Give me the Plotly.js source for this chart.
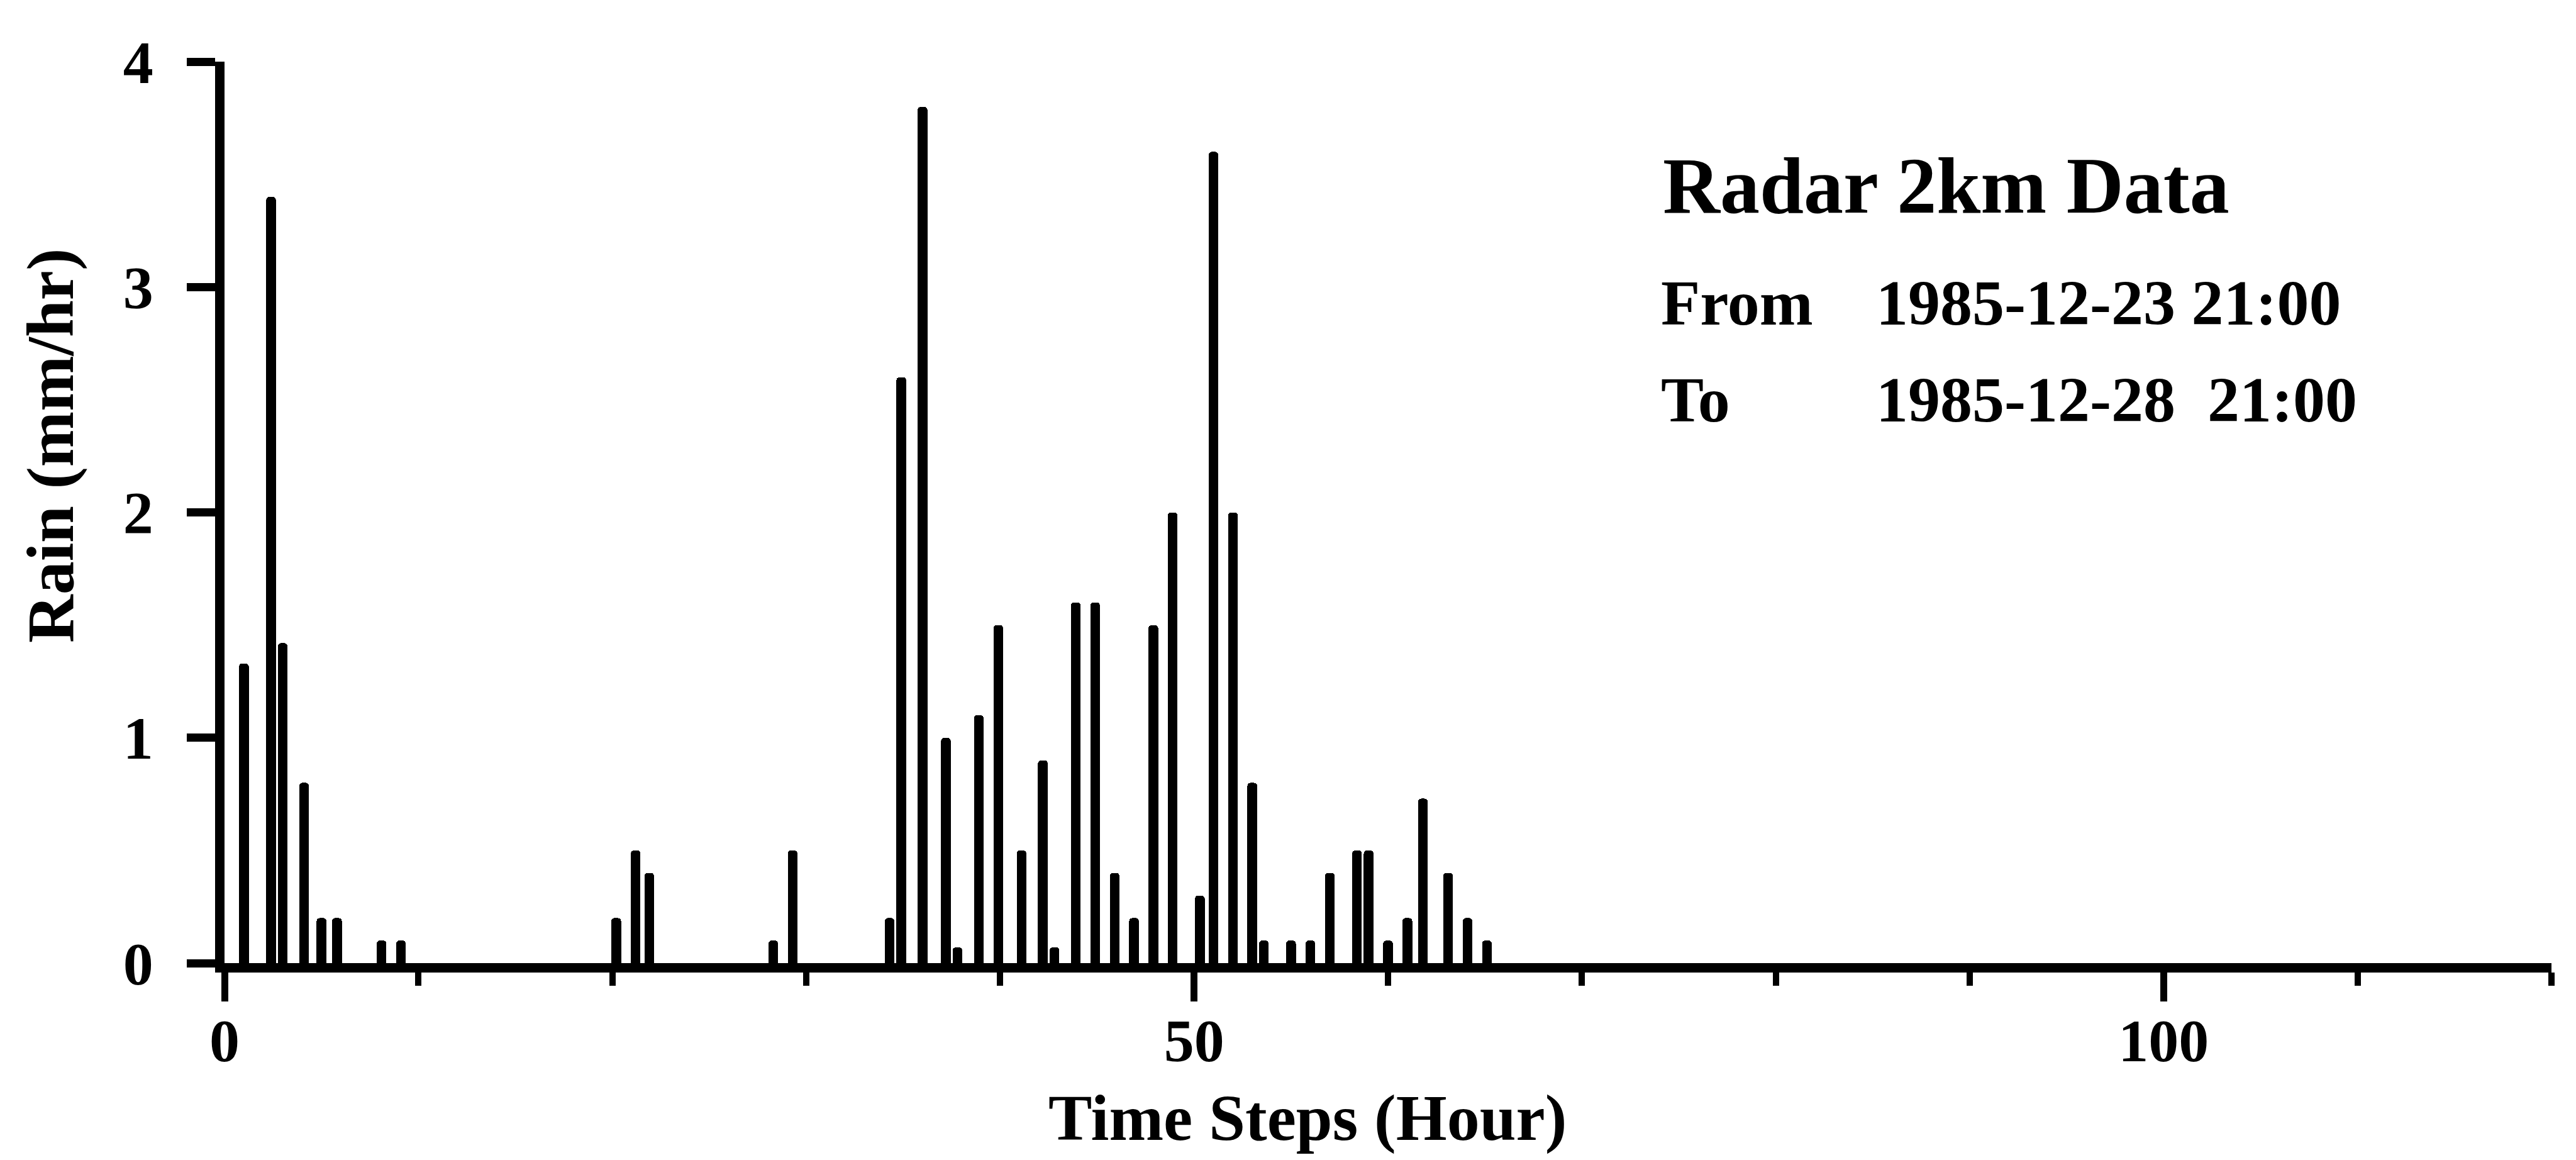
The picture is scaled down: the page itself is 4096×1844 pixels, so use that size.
<!DOCTYPE html>
<html>
<head>
<meta charset="utf-8">
<script src="https://cdn.plot.ly/plotly-3.0.1.min.js"></script>
<style>
  html, body { margin: 0; padding: 0; background: #ffffff; }
  #chart { width: 4096px; height: 1844px; }
</style>
</head>
<body>
<div id="chart"></div>
<script>
// Hourly radar rainfall, 2 km grid
const hours = [1.0, 2.4, 3.0, 4.1, 5.0, 5.8, 8.1, 9.1,
               20.2, 21.2, 21.9, 28.3, 29.3,
               34.3, 34.9, 36.0, 37.2, 37.8, 38.9, 39.9, 41.1, 42.2, 42.8,
               43.9, 44.9, 45.9, 46.9, 47.9, 48.9,
               50.3, 51.0, 52.0, 53.0, 53.6, 55.0, 56.0, 57.0, 58.4, 59.0,
               60.0, 61.0, 61.8, 63.1, 64.1, 65.1];
const rain = [1.33, 3.4, 1.42, 0.8, 0.2, 0.2, 0.1, 0.1,
              0.2, 0.5, 0.4, 0.1, 0.5,
              0.2, 2.6, 3.8, 1.0, 0.07, 1.1, 1.5, 0.5, 0.9, 0.07,
              1.6, 1.6, 0.4, 0.2, 1.5, 2.0,
              0.3, 3.6, 2.0, 0.8, 0.1, 0.1, 0.1, 0.4, 0.5, 0.5,
              0.1, 0.2, 0.73, 0.4, 0.2, 0.1];

const xTickVals = [0, 50, 100];
const xTickText = ['0', '50', '100'];
const yTickVals = [0, 1, 2, 3, 4];
const yTickText = ['0', '1', '2', '3', '4'];

const legendTitle = 'Radar 2km Data';
const periodLabels = ['From', 'To'];
const periodDates = ['1985-12-23 21:00', '1985-12-28\u00a0\u00a021:00'];
const xTitle = 'Time Steps (Hour)';
const yTitle = 'Rain (mm/hr)';

const SERIF = '"Liberation Serif", "Times New Roman", Times, serif';

const trace = {
  type: 'bar',
  x: hours,
  y: rain,
  width: 0.5,
  marker: { color: '#000000', line: { width: 0 }, cornerradius: 5 },
  hoverinfo: 'x+y',
  cliponaxis: false
};

const annFont = (size) => ({ family: SERIF, size: size, color: '#000', weight: 'bold' });

const annotations = [
  { text: legendTitle, xref: 'x', yref: 'y', x: 74.1, y: 3.45, xanchor: 'left', yanchor: 'middle',
    showarrow: false, font: annFont(126) },
  { text: periodLabels[0], xref: 'x', yref: 'y', x: 74.0, y: 2.93, xanchor: 'left', yanchor: 'middle',
    showarrow: false, font: annFont(102) },
  { text: periodDates[0], xref: 'x', yref: 'y', x: 85.1, y: 2.93, xanchor: 'left', yanchor: 'middle',
    showarrow: false, font: annFont(102) },
  { text: periodLabels[1], xref: 'x', yref: 'y', x: 74.0, y: 2.50, xanchor: 'left', yanchor: 'middle',
    showarrow: false, font: annFont(102) },
  { text: periodDates[1], xref: 'x', yref: 'y', x: 85.1, y: 2.50, xanchor: 'left', yanchor: 'middle',
    showarrow: false, font: annFont(102) },
  { text: xTitle, xref: 'paper', yref: 'paper', x: 0.4654, y: -0.172, xanchor: 'center', yanchor: 'middle',
    showarrow: false, font: annFont(104) },
  { text: yTitle, xref: 'paper', yref: 'paper', x: -0.0749, y: 0.5743, xanchor: 'center', yanchor: 'middle',
    textangle: -90, showarrow: false, font: annFont(106) }
];

const layout = {
  width: 4096,
  height: 1844,
  margin: { l: 357, r: 39, t: 98, b: 313, pad: 0 },
  paper_bgcolor: '#ffffff',
  plot_bgcolor: '#ffffff',
  showlegend: false,
  bargap: 0,
  xaxis: {
    range: [0, 120],
    showgrid: false,
    zeroline: false,
    showline: true,
    linecolor: '#000',
    linewidth: 15,
    ticks: 'outside',
    tickvals: xTickVals,
    ticktext: xTickText,
    ticklen: 46,
    tickwidth: 11,
    tickcolor: '#000',
    ticklabelstandoff: -20,
    tickfont: { family: SERIF, size: 96, color: '#000', weight: 'bold' },
    minor: { tickmode: 'linear', tick0: 0, dtick: 10, ticks: 'outside', ticklen: 21, tickwidth: 10, tickcolor: '#000', showgrid: false },
    fixedrange: true
  },
  yaxis: {
    range: [0, 4],
    showgrid: false,
    zeroline: false,
    showline: true,
    linecolor: '#000',
    linewidth: 15,
    ticks: 'outside',
    tickvals: yTickVals,
    ticktext: yTickText,
    ticklen: 45,
    tickwidth: 13,
    tickcolor: '#000',
    ticklabelstandoff: 34,
    tickfont: { family: SERIF, size: 96, color: '#000', weight: 'bold' },
    fixedrange: true
  },
  annotations: annotations
};

Plotly.newPlot('chart', [trace], layout, { staticPlot: true, displayModeBar: false });
</script>
</body>
</html>
